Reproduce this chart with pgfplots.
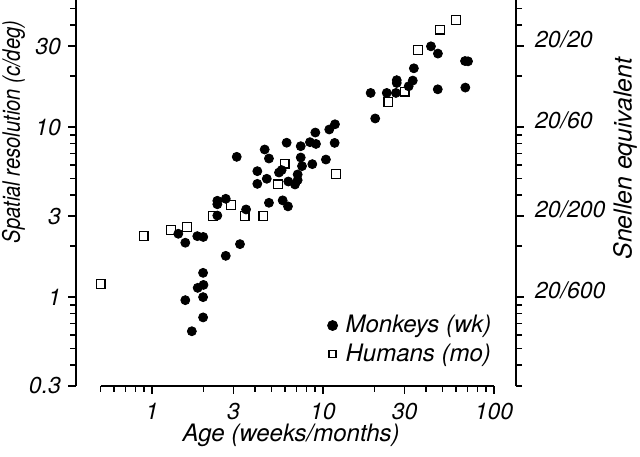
\documentclass[border=0pt]{standalone}
\usepackage{fontspec}
\setmainfont{TeX Gyre Heros}
\usepackage{graphicx}
\usepackage{pgfplots}
\usepackage{pgfplotstable}
\pgfplotsset{compat=1.18}

% monkeys: age in weeks, humans: age in months
\pgfplotstableread{
x y
1.425 2.36
1.566 2.09
1.84 2.285
1.995 2.26
2.70 1.75
1.99 1.39
2.0 1.18
1.85 1.134
1.566 0.96
1.99 1.0
1.99 0.76
1.71 0.63
3.27 2.05
2.41 3.02
2.41 3.69
2.41 3.52
2.70 3.79
3.55 3.28
3.13 6.69
4.56 7.39
4.83 6.54
4.13 5.51
4.13 4.64
4.69 4.97
5.53 5.41
5.73 5.59
5.81 3.71
6.24 3.42
4.83 3.59
6.27 4.79
6.86 4.6
7.11 4.88
7.11 5.27
7.41 6.63
7.54 5.9
7.41 7.73
6.13 8.1
8.39 8.16
9.1 7.97
9.02 9.3
10.88 9.69
11.75 10.4
11.7 8.08
10.4 6.45
8.66 6.06
20.2 11.25
19.0 15.9
23.6 15.9
26.7 15.9
27.0 18.9
27.0 18.2
31.7 17.4
33.5 18.8
34.0 22.2
42.8 29.9
47.0 27.1
46.9 16.7
67.7 24.5
70.5 24.4
68.0 17.1
}\monkeys

\pgfplotstableread{
x y
0.5 1.19
0.894 2.285
1.29 2.49
1.596 2.59
2.28 2.99
2.89 3.49
3.48 2.99
4.48 2.99
5.97 6.11
5.46 4.6
11.96 5.31
24.1 14.1
30.0 16.2
35.9 28.4
48.3 37.5
59.9 42.6
}\humans

\begin{document}
\begin{tikzpicture}
\path[use as bounding box] (-38pt,-35.25pt) rectangle (282pt,193pt);
\begin{axis}[
    at={(0,0)}, anchor=south west,
    scale only axis, width=220pt, height=193pt,
    xmode=log, ymode=log,
    xmin=0.3594, xmax=134.5, ymin=0.3, ymax=56,
    clip=false,
    axis y line*=left, axis x line*=bottom,
    x axis line style={draw=none},
    y axis line style={line width=0.75pt},
    tick align=outside,
    every tick/.style={black, line width=0.75pt},
    major tick length=4pt, minor tick length=3pt,
    xtick={1,3,10,30,100}, xticklabels={1,3,10,30,100},
    minor xtick={0.5,0.6,0.7,0.8,0.9,2,4,5,6,7,8,9,20,40,50,60,70,80,90},
    ytick={0.3,1,3,10,30}, yticklabels={0.3,1,3,10,30},
    minor ytick={0.4,0.5,0.6,0.7,0.8,0.9,2,4,5,6,7,8,9,20,40,50},
    tick label style={font=\itshape\fontsize{11.5}{13}\selectfont},
    xticklabel style={yshift=-1pt},
    xlabel={Age (weeks/months)},
    ylabel={\scalebox{0.84}[1]{Spatial resolution (c/deg)}},
    every axis x label/.style={at={(axis description cs:0.489,-0.129)}, anchor=center,
        font=\itshape\fontsize{12}{14}\selectfont},
    every axis y label/.style={at={(axis description cs:-0.142,0.658)}, rotate=90, anchor=center,
        font=\itshape\fontsize{12}{14}\selectfont},
    legend style={at={(axis description cs:0.555,0.205)}, anchor=north west,
        draw=none, fill=none, font=\itshape\fontsize{12}{14}\selectfont,
        row sep=0pt},
    legend cell align=left,
    legend image code/.code={\draw[#1] plot coordinates {(0pt,0pt)};
        \path[draw=none] (-3pt,0pt) (4.5pt,0pt);},
]
\draw[line width=0.75pt] (axis cs:0.5,0.3) -- (axis cs:100,0.3);
\addplot[only marks, mark=*, mark size=2.25pt, black, forget plot] table {\monkeys};
\addplot[only marks, mark=square, mark size=2.2pt, black, line width=0.6pt,
    mark options={fill=white}, forget plot] table {\humans};
\addlegendimage{only marks, mark=*, mark size=2.5pt, black}
\addlegendentry{Monkeys (wk)}
\addlegendimage{only marks, mark=square, mark size=1.75pt, black, line width=0.6pt}
\addlegendentry{Humans (mo)}
\end{axis}
\begin{axis}[
    at={(0,0)}, anchor=south west,
    scale only axis, width=220pt, height=193pt,
    xmode=log, ymode=log,
    xmin=0.3594, xmax=134.5, ymin=0.3, ymax=56,
    axis y line*=right, axis x line=none,
    y axis line style={line width=0.75pt},
    tick align=outside,
    every tick/.style={black, line width=0.75pt},
    major tick length=4pt, minor tick length=3pt,
    ytick={1,3,10,30}, yticklabels={20/600,20/200,20/60,20/20},
    minor ytick={0.3,0.4,0.5,0.6,0.7,0.8,0.9,2,4,5,6,7,8,9,20,40,50},
    yticklabel style={font=\itshape\fontsize{11.5}{13}\selectfont, yshift=3.5pt, xshift=2pt},
    ylabel={Snellen equivalent},
    every axis y label/.style={at={(axis description cs:1.248,0.589)}, rotate=90,
        anchor=center, font=\itshape\fontsize{12.4}{14}\selectfont},
]
\end{axis}
\end{tikzpicture}
\end{document}
